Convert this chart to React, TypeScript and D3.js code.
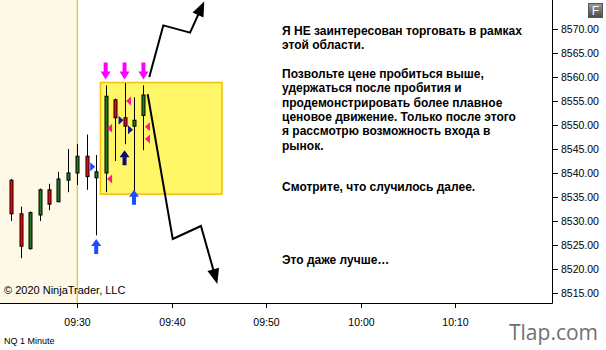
import React from "react";
import * as d3 from "d3";

// ---------- data ----------
const candleTimes = ["09:23","09:24","09:25","09:26","09:27","09:28","09:29","09:30","09:31","09:32","09:33","09:34","09:35","09:36","09:37"];
const opens  = [8538.5, 8531.5, 8524.25, 8531.25, 8536.5, 8534.0, 8538.5, 8540.0, 8543.5, 8539.0, 8540.0, 8555.25, 8551.5, 8549.75, 8552.0];
const highs  = [8538.75,8533.0, 8532.0, 8536.75, 8537.75,8540.25,8545.0, 8546.0, 8548.0, 8543.75,8558.25,8555.5, 8558.75,8555.75, 8558.25];
const lows   = [8530.0, 8522.25,8524.0, 8530.0, 8532.25, 8534.0, 8536.0, 8537.5, 8536.5, 8527.0, 8536.0, 8542.5, 8546.0, 8536.0, 8544.75];
const closes = [8531.5, 8524.75,8531.75, 8536.5, 8533.5, 8538.75,8540.0, 8543.5, 8539.25, 8540.25,8556.0, 8551.5, 8549.75,8551.0, 8556.25];

const priceTicks = [8515, 8520, 8525, 8530, 8535, 8540, 8545, 8550, 8555, 8560, 8565, 8570];
const timeTicks = ["09:30", "09:40", "09:50", "10:00", "10:10"];

const downArrowTimes = ["09:33", "09:35", "09:37"];
const downArrowPrices = [8559.5, 8559.5, 8559.5];

const upArrowTimes = ["09:32", "09:35", "09:36"];
const upArrowPrices = [8526.25, 8544.75, 8536.5];
const upArrowKinds = ["a", "b", "a"];

const leftTriTimes = ["09:35", "09:33", "09:33", "09:37", "09:37"];
const leftTriPrices = [8555.0, 8549.3, 8538.75, 8549.65, 8547.1];

const rightTriTimes = ["09:32", "09:35", "09:36"];
const rightTriPrices = [8541.3, 8551.0, 8549.0];
const rightTriKinds = ["a", "b", "b"];

const zoneTimes = ["09:32:27", "09:45:19"];
const zonePrices = [8558.85, 8535.6];

const upPathTimes = ["09:37:37", "09:39:06", "09:41:56", "09:43:26"];
const upPathPrices = [8560.0, 8570.75, 8569.25, 8575.75];
const downPathTimes = ["09:37:27", "09:40:06", "09:43:05", "09:44:49"];
const downPathPrices = [8556.4, 8526.25, 8528.96, 8516.9];

const sessionStart = "09:30";

const textBlock1 = ["Я НЕ заинтересован торговать в рамках", "этой области."];
const textBlock2 = [
  "Позвольте цене пробиться выше,",
  "удержаться после пробития и",
  "продемонстрировать более плавное",
  "ценовое движение. Только после этого",
  "я рассмотрю возможность входа в",
  "рынок.",
];
const textBlock3 = ["Смотрите, что случилось далее."];
const textBlock4 = ["Это даже лучше…"];

// ---------- helpers ----------
const toDate = (s: string) => {
  const [h, m, sec] = s.split(":").map(Number);
  return new Date(2020, 0, 2, h, m, sec || 0);
};

const W = 606, H = 350;
const plotRight = 552;
const plotBottom = 303;
const pxPerMin = 9.45;
const x0 = 77.3; // pixel of 09:30

const x = d3
  .scaleTime()
  .domain([
    new Date(toDate("09:30").getTime() - (x0 / pxPerMin) * 60000),
    new Date(toDate("09:30").getTime() + ((plotRight - x0) / pxPerMin) * 60000),
  ])
  .range([0, plotRight]);

const y = d3
  .scaleLinear()
  .domain([8570 - (plotBottom - 29) / 4.8, 8570 + 29 / 4.8])
  .range([plotBottom, 0]);

const FONT = "'Liberation Sans', Arial, sans-serif";

function arrowHeadPath(p1: [number, number], p2: [number, number], len: number, hw: number) {
  const dx = p2[0] - p1[0], dy = p2[1] - p1[1];
  const L = Math.hypot(dx, dy);
  const ux = dx / L, uy = dy / L;
  const bx = p2[0] - ux * len, by = p2[1] - uy * len;
  const px = -uy, py = ux;
  return {
    head: `M${p2[0]},${p2[1]}L${bx + px * hw},${by + py * hw}L${bx - px * hw},${by - py * hw}Z`,
    base: [bx + ux * 2, by + uy * 2] as [number, number],
  };
}

function ZigZag({ times, prices }: { times: string[]; prices: number[] }) {
  const pts = times.map((t, i) => [x(toDate(t)), y(prices[i])] as [number, number]);
  const n = pts.length;
  const { head, base } = arrowHeadPath(pts[n - 2], pts[n - 1], 15, 6);
  const linePts = [...pts.slice(0, n - 1), base];
  const line = d3.line()(linePts) as string;
  return (
    <g>
      <path d={line} fill="none" stroke="#000" strokeWidth={2} strokeLinejoin="miter" />
      <path d={head} fill="#000" />
    </g>
  );
}

export default function App() {
  const sx = x(toDate(sessionStart));
  const zx1 = x(toDate(zoneTimes[0])), zx2 = x(toDate(zoneTimes[1]));
  const zy1 = y(zonePrices[0]), zy2 = y(zonePrices[1]);
  const bw = 3;
  const lineH = 14.3;

  const renderText = (lines: string[], y0: number) =>
    lines.map((l, i) => (
      <text key={i} x={282} y={y0 + i * lineH} fontFamily={FONT} fontSize={12} fontWeight="bold" fill="#000">
        {l}
      </text>
    ));

  return (
    <svg width={W} height={H} style={{ position: "absolute", left: 0, top: 0, background: "#fff" }}>
      <defs>
        <linearGradient id="fbtn" x1="0" y1="0" x2="0" y2="1">
          <stop offset="0" stopColor="#9a9a9a" />
          <stop offset="1" stopColor="#4a4a4a" />
        </linearGradient>
      </defs>
      {/* pre-session shading */}
      <rect x={0} y={0} width={sx} height={plotBottom} fill="#fdf9e6" />
      <line x1={sx} x2={sx} y1={0} y2={plotBottom} stroke="#f2bb1a" strokeWidth={1.2} />

      {/* zone */}
      <rect x={zx1} y={zy1} width={zx2 - zx1} height={zy2 - zy1} fill="#fff768" stroke="#f4c20d" strokeWidth={1.6} />

      {/* candles */}
      {candleTimes.map((t, i) => {
        const cx = Math.round(x(toDate(t))) + 0.5;
        const o = opens[i], c = closes[i];
        const top = y(Math.max(o, c)), bot = y(Math.min(o, c));
        return (
          <g key={t}>
            <line x1={cx} x2={cx} y1={y(highs[i])} y2={y(lows[i])} stroke="#000" strokeWidth={1} />
            <rect x={cx - bw / 2} y={top} width={bw} height={Math.max(bot - top, 1)} fill={c >= o ? "#1d7d1d" : "#ff0000"} stroke="#000" strokeWidth={1} />
          </g>
        );
      })}

      {/* down arrows (magenta) */}
      {downArrowTimes.map((t, i) => {
        const cx = x(toDate(t)), ty = y(downArrowPrices[i]);
        const d = `M${cx},${ty}L${cx - 5},${ty - 8}L${cx - 2},${ty - 8}L${cx - 2},${ty - 17}L${cx + 2},${ty - 17}L${cx + 2},${ty - 8}L${cx + 5},${ty - 8}Z`;
        return <path key={i} d={d} fill="#ff00ff" />;
      })}

      {/* up arrows */}
      {upArrowTimes.map((t, i) => {
        const cx = x(toDate(t)), ty = y(upArrowPrices[i]);
        const d = `M${cx},${ty}L${cx - 5},${ty + 7}L${cx - 2},${ty + 7}L${cx - 2},${ty + 15}L${cx + 2},${ty + 15}L${cx + 2},${ty + 7}L${cx + 5},${ty + 7}Z`;
        return <path key={i} d={d} fill={upArrowKinds[i] === "a" ? "#1f4cff" : "#0a0a78"} />;
      })}

      {/* left-pointing triangles (magenta) */}
      {leftTriTimes.map((t, i) => {
        const cx = x(toDate(t)) + 1.5, cy = y(leftTriPrices[i]);
        const d = `M${cx},${cy}L${cx + 5},${cy - 4.5}L${cx + 5},${cy + 4.5}Z`;
        return <path key={i} d={d} fill="#ff1493" />;
      })}

      {/* right-pointing triangles */}
      {rightTriTimes.map((t, i) => {
        const cx = x(toDate(t)) - 1, cy = y(rightTriPrices[i]);
        const d = `M${cx},${cy}L${cx - 5},${cy - 4.5}L${cx - 5},${cy + 4.5}Z`;
        return <path key={i} d={d} fill={rightTriKinds[i] === "a" ? "#1f4cff" : "#141490"} />;
      })}

      <ZigZag times={upPathTimes} prices={upPathPrices} />
      <ZigZag times={downPathTimes} prices={downPathPrices} />

      {/* annotation text */}
      {renderText(textBlock1, 35)}
      {renderText(textBlock2, 78)}
      {renderText(textBlock3, 191)}
      {renderText(textBlock4, 264)}

      <text x={4} y={294} fontFamily={FONT} fontSize={11} fill="#000">© 2020 NinjaTrader, LLC</text>

      {/* axes */}
      <line x1={0} x2={plotRight + 0.5} y1={plotBottom + 0.5} y2={plotBottom + 0.5} stroke="#000" />
      <line x1={plotRight + 0.5} x2={plotRight + 0.5} y1={0} y2={plotBottom + 0.5} stroke="#000" />
      {timeTicks.map((t) => {
        const tx = Math.round(x(toDate(t))) + 0.5;
        return (
          <g key={t}>
            <line x1={tx} x2={tx} y1={plotBottom} y2={plotBottom + 5} stroke="#000" />
            <text x={tx} y={326} textAnchor="middle" fontFamily={FONT} fontSize={10.5} fill="#000">{t}</text>
          </g>
        );
      })}
      {priceTicks.map((p) => {
        const ty = Math.round(y(p)) + 0.5;
        return (
          <g key={p}>
            <line x1={plotRight} x2={plotRight + 6} y1={ty} y2={ty} stroke="#000" />
            <text x={561} y={ty + 3.8} fontFamily={FONT} fontSize={10.5} fill="#000">{d3.format(".2f")(p)}</text>
          </g>
        );
      })}

      {/* F button */}
      <rect x={588.5} y={3.5} width={14} height={14} fill="url(#fbtn)" stroke="#555" />
      <text x={595.5} y={15} textAnchor="middle" fontFamily={FONT} fontSize={12} fill="#fff">F</text>

      <text x={4} y={344} fontFamily={FONT} fontSize={9} fill="#000">NQ 1 Minute</text>
      <text x={509} y={340} fontFamily="'Open Sans', sans-serif" fontSize={21} fill="#707070">Tlap.com</text>
    </svg>
  );
}
